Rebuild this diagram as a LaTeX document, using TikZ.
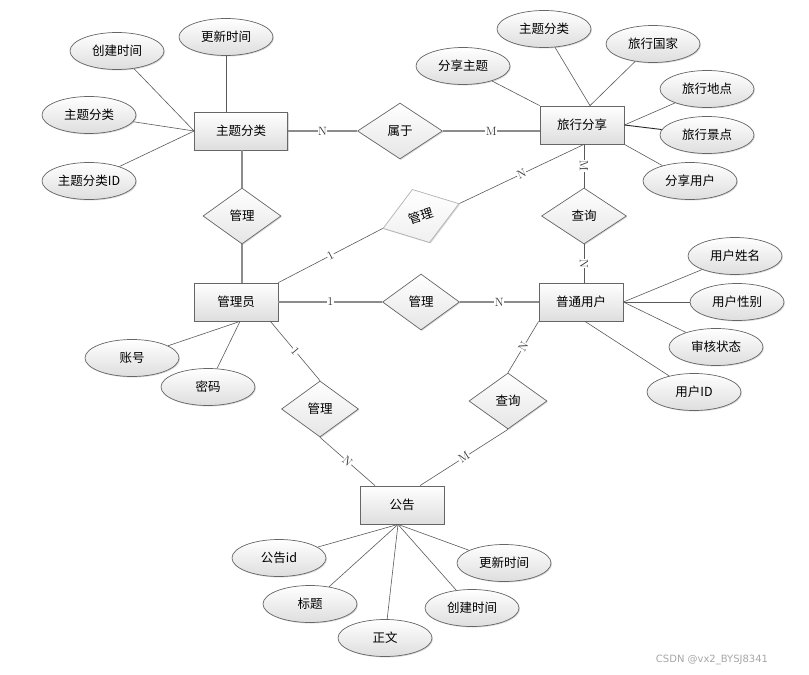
\documentclass[tikz,border=0pt]{standalone}
\usepackage{fontspec}
\usepackage{tikz}
\usetikzlibrary{shapes, shapes.geometric, shadows}
\newfontfamily\cjkfont{Noto Sans CJK SC}
\newfontfamily\markfont{DejaVu Sans}

\begin{document}
\begin{tikzpicture}[
        x=1pt, y=-1pt,
        every node/.style={font=\cjkfont\fontsize{12.5}{15}\selectfont, text=black},
        softshadow/.style={drop shadow={shadow xshift=1pt, shadow yshift=-1pt, opacity=0.3}},
        entity/.style={draw=black!60, line width=0.8pt, top color=white, bottom color=black!13, minimum width=84pt, minimum height=38pt, softshadow},
        relation/.style={diamond, draw=black!60, line width=0.7pt, top color=white, bottom color=black!10, minimum width=78pt, minimum height=56pt, inner sep=0pt, softshadow},
        attr/.style={ellipse, draw=black!60, line width=0.7pt, top color=white, bottom color=black!13, minimum width=94pt, minimum height=37pt, inner sep=0pt, softshadow},
        link/.style={draw=black!45, line width=1.1pt},
        attrlink/.style={draw=black!65, line width=0.6pt},
        card/.style={fill=white, inner sep=0.5pt, font=\rmfamily\fontsize{12}{13}\selectfont, text=black!80}
    ]
        \useasboundingbox (0,0) rectangle (809,675);

        % --- Entities ---
        \node[entity, minimum width=93pt] (zhuti) at (241,131) {主题分类};
        \node[entity] (lvxing) at (582,125) {旅行分享};
        \node[entity] (admin) at (236,302) {管理员};
        \node[entity] (user) at (581,302) {普通用户};
        \node[entity] (notice) at (402,505) {公告};

        % --- Relations ---
        \node[relation, minimum width=85pt] (shuyu) at (400,131) {属于};
        \node[relation] (guanliZt) at (242,216) {管理};
        \node[relation, rotate=18, draw=black!30, bottom color=black!6, minimum width=80pt] (guanliLx) at (421,216) {管理};
        \node[relation, minimum width=77pt] (guanliUser) at (421,302) {管理};
        \node[relation, minimum width=85pt] (chaxunLx) at (584,216) {查询};
        \node[relation, minimum width=77pt] (guanliNotice) at (320,409) {管理};
        \node[relation] (chaxunNotice) at (508,401) {查询};

        % --- Attributes: 主题分类 ---
        \node[attr] (ztCreate) at (117,51) {创建时间};
        \node[attr] (ztUpdate) at (226,37) {更新时间};
        \node[attr] (ztName) at (89,115) {主题分类};
        \node[attr] (ztId) at (89,181) {主题分类ID};

        % --- Attributes: 旅行分享 ---
        \node[attr] (lxTopic) at (463,66) {分享主题};
        \node[attr] (lxType) at (544,29) {主题分类};
        \node[attr] (lxCountry) at (653,44) {旅行国家};
        \node[attr] (lxPlace) at (707,89) {旅行地点};
        \node[attr] (lxSpot) at (707,135) {旅行景点};
        \node[attr] (lxUser) at (690,181) {分享用户};

        % --- Attributes: 普通用户 ---
        \node[attr] (userName) at (735,256) {用户姓名};
        \node[attr] (userSex) at (737,302) {用户性别};
        \node[attr] (userState) at (716,347) {审核状态};
        \node[attr] (userId) at (694,392) {用户ID};

        % --- Attributes: 管理员 ---
        \node[attr] (adminAccount) at (132,358) {账号};
        \node[attr] (adminPwd) at (208,387) {密码};

        % --- Attributes: 公告 ---
        \node[attr] (noticeId) at (279,558) {公告id};
        \node[attr] (noticeTitle) at (310,604) {标题};
        \node[attr] (noticeBody) at (385,638) {正文};
        \node[attr] (noticeCreate) at (472,608) {创建时间};
        \node[attr] (noticeUpdate) at (504,563) {更新时间};

        % --- Attribute links ---
        \foreach \a in {ztCreate, ztName, ztId}
            \draw[attrlink] (\a) -- (zhuti.west);
        \draw[attrlink] (ztUpdate.south) -- (ztUpdate.south |- zhuti.north);

        \draw[attrlink] (lxTopic) -- (lvxing.north west);
        \foreach \a in {lxType, lxCountry}
            \draw[attrlink] (\a) -- ([xshift=8pt]lvxing.north);
        \draw[attrlink] (lxPlace) -- (lvxing.east);
        \draw[attrlink, draw=black!85, line width=0.9pt] (lxSpot) -- (lvxing.east);
        \draw[attrlink] (lxUser) -- (lvxing.south east);

        \foreach \a in {userName, userSex, userState}
            \draw[attrlink] (\a) -- (user.east);
        \draw[attrlink] (userId) -- ([xshift=4pt]user.south);

        \foreach \a in {adminAccount, adminPwd}
            \draw[attrlink] (\a) -- ([xshift=4pt]admin.south);

        \foreach \a in {noticeId, noticeTitle, noticeBody, noticeCreate, noticeUpdate}
            \draw[attrlink] (\a) -- ([xshift=-4pt]notice.south);

        % --- Relation links ---
        \draw[link] (zhuti.east) -- node[card] {N} (shuyu.west);
        \draw[link] (shuyu.east) -- node[card] {M} (lvxing.west |- shuyu.east);

        \draw[link] (zhuti.south -| guanliZt.north) -- (guanliZt.north);
        \draw[link] (guanliZt.south) -- (guanliZt.south |- admin.north);

        \draw[attrlink] (admin.north east) -- node[card, sloped] {1} (guanliLx.west);
        \draw[attrlink] (guanliLx.east) -- node[card, sloped] {N} (chaxunLx.north |- lvxing.south);

        \draw[attrlink] (chaxunLx.north |- lvxing.south) -- node[card, sloped] {M} (chaxunLx.north);
        \draw[attrlink] (chaxunLx.south) -- node[card, sloped] {N} (chaxunLx.south |- user.north);

        \draw[link] (admin.east) -- node[card] {1} (guanliUser.west);
        \draw[link] (guanliUser.east) -- node[card] {N} (user.west);

        \draw[attrlink] ([xshift=-8pt]admin.south east) -- node[card, sloped] {1} (guanliNotice.north);
        \draw[attrlink] (guanliNotice.south) -- node[card, sloped] {N} ([xshift=-27pt]notice.north);

        \draw[attrlink] (user.south west) -- node[card, sloped] {N} (chaxunNotice.north);
        \draw[attrlink] (chaxunNotice.south) -- node[card, sloped] {M} ([xshift=18pt]notice.north);

        % --- Watermark ---
        \node[font=\markfont\fontsize{10}{12}\selectfont, text=black!35] (mark) at (712,660) {CSDN @vx2\_BYSJ8341};

    \end{tikzpicture}
\end{document}
